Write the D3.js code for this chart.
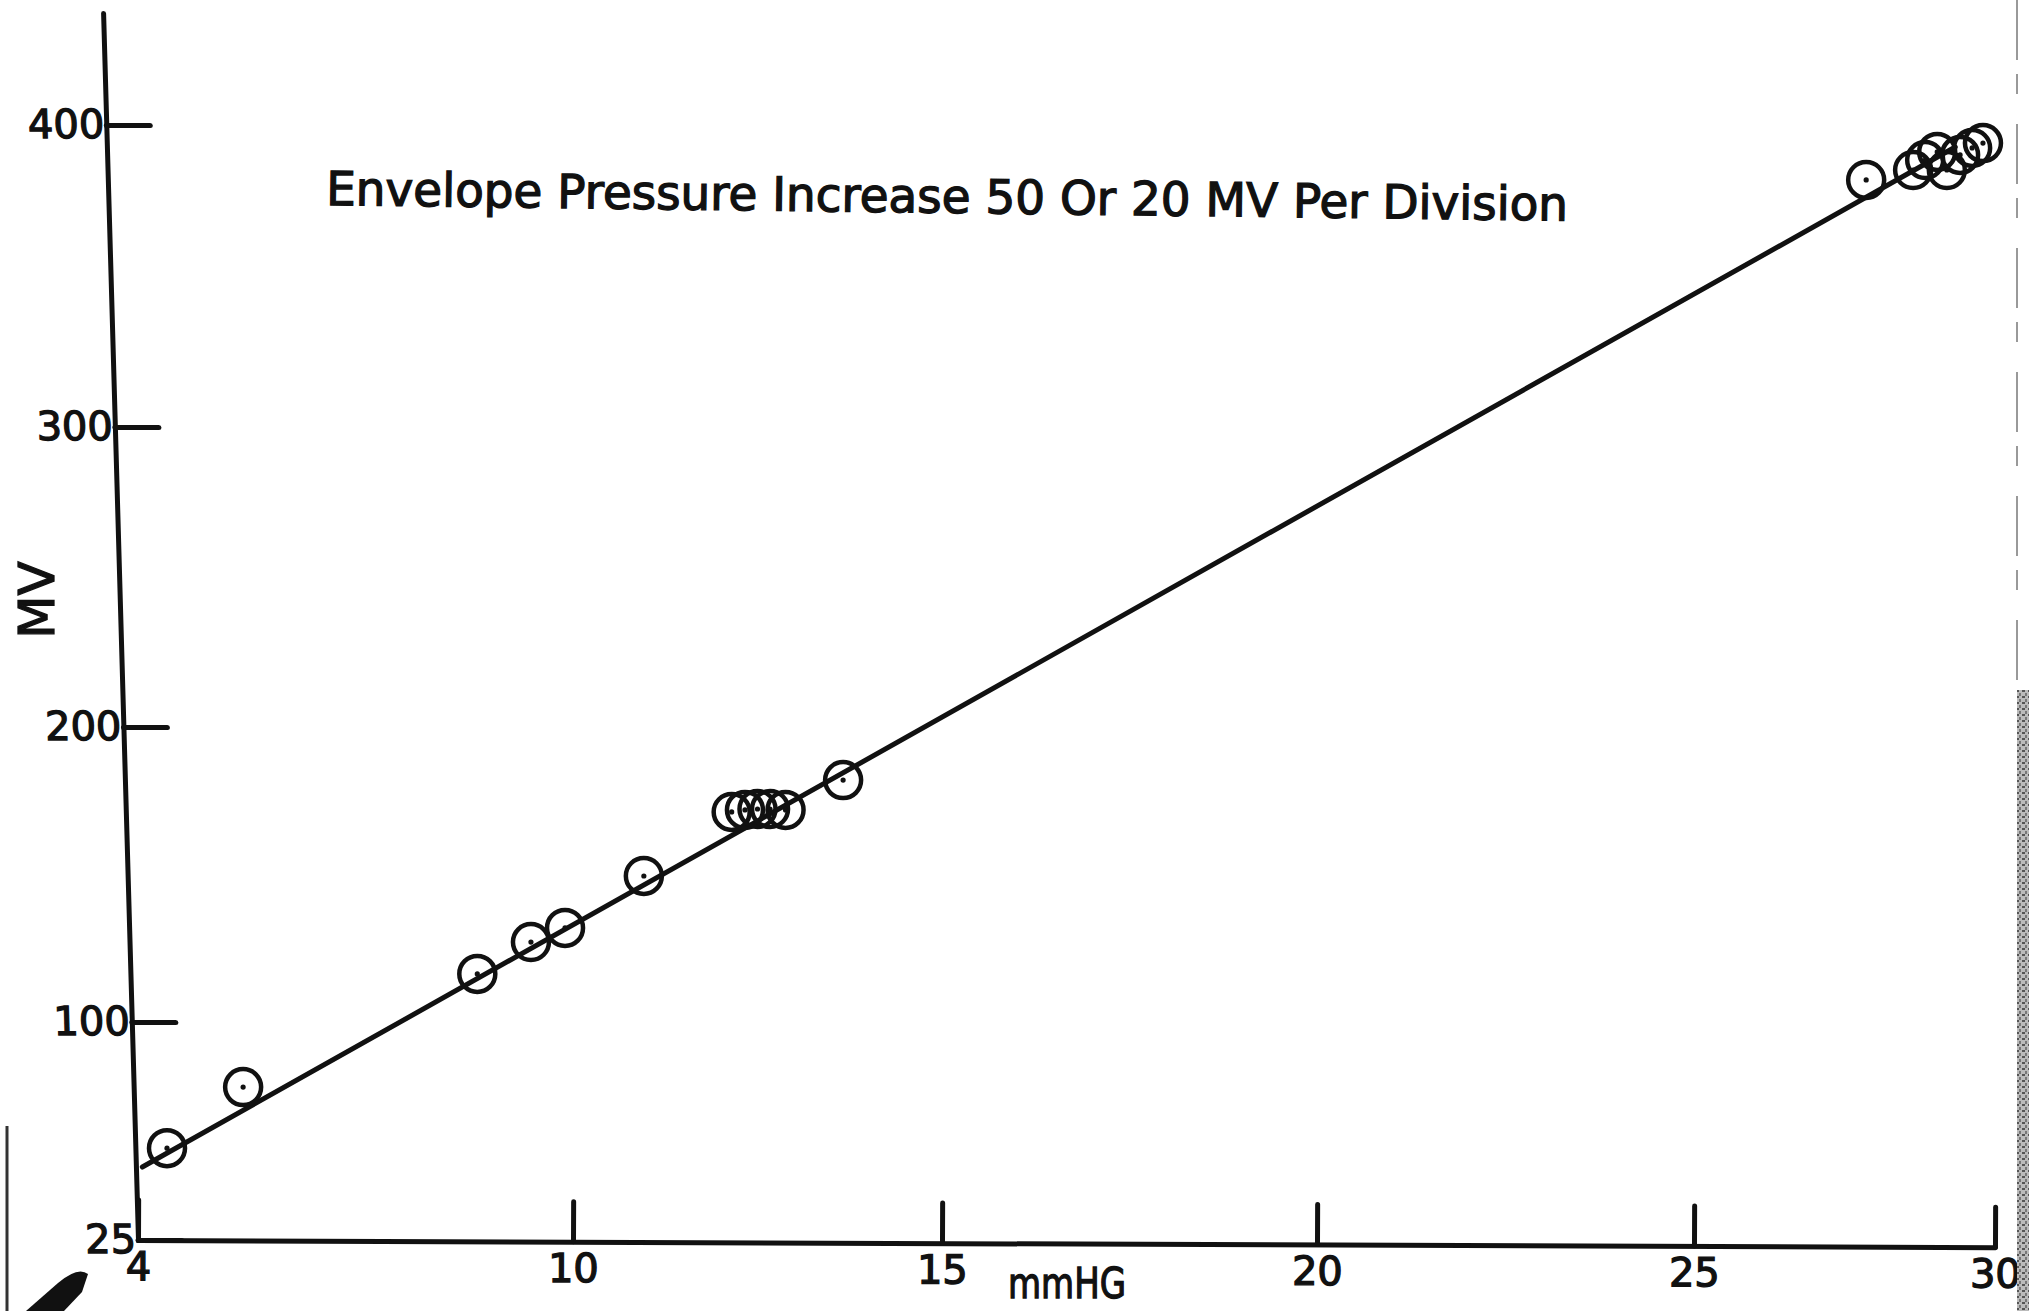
<!DOCTYPE html>
<html><head><meta charset="utf-8">
<script src="https://cdn.jsdelivr.net/npm/d3@7"></script>
<style>
html,body{margin:0;padding:0;background:#fff;}
svg{display:block;}
text{font-family:"DejaVu Sans",sans-serif;fill:#111;stroke:#111;stroke-width:1.3px;}
</style></head><body>
<svg id="chart" width="2029" height="1311"></svg>
<script>
// ---- data ----
const xTickValues = [4, 10, 15, 20, 25, 30];
const yTickValues = [25, 100, 200, 300, 400];
const pressure   = [4.40, 5.45, 8.68, 9.42, 9.89, 10.96, 12.15, 12.33, 12.50, 12.67, 12.88, 13.66,
                    27.86, 28.64, 28.84, 29.04, 29.20, 29.42, 29.62, 29.80];
const millivolts = [56.6, 77.6, 116.3, 127.1, 131.9, 149.5, 171.2, 171.9, 172.2, 172.2, 171.9, 182.0,
                    381.8, 385.1, 388.4, 391.1, 385.1, 390.1, 392.4, 394.0];
const fitPressure = [4.06, 29.34];
const fitMillivolts = [50.1, 392.7];
const titleText = "Envelope Pressure Increase 50 Or 20 MV Per Division";
const xLabelText = "mmHG";
const yLabelText = "MV";

// ---- layout ----
const svg = d3.select("#chart");
const ink = "#111";

// hand-drawn axes: piecewise linear scales following the drawn tick spacing
const x = d3.scaleLinear().domain([4, 10, 15, 20, 25, 30]).range([138, 573, 942, 1317, 1694, 1995]);
const y = d3.scaleLinear().domain([25, 100, 200, 300, 400, 437]).range([1240, 1022, 727, 427, 125, 13]);

function styleAxis(g, fs) {
  g.attr("font-family", null).attr("font-size", null);
  g.select(".domain").attr("stroke", ink).attr("stroke-width", 5).attr("stroke-linecap", "round");
  g.selectAll(".tick line").attr("stroke", ink).attr("stroke-width", 5).attr("stroke-linecap", "round");
  g.selectAll(".tick text").attr("font-size", fs).attr("fill", ink);
}

// y axis (slightly slanted like the drawing)
const yg = svg.append("g")
  .attr("transform", "translate(138,1240) skewX(1.63) translate(0,-1240)")
  .call(d3.axisLeft(y).tickValues(yTickValues).tickFormat(d3.format("d"))
        .tickSize(-44).tickSizeOuter(0).tickPadding(2));
styleAxis(yg, 40);

// x axis
const xg = svg.append("g")
  .attr("transform", "translate(0,1240) rotate(0.22,138,0)")
  .call(d3.axisBottom(x).tickValues(xTickValues).tickFormat(d3.format("d"))
        .tickSize(-40).tickSizeOuter(0).tickPadding(12));
styleAxis(xg, 40);

// fitted line
const fit = fitPressure.map((p, i) => [p, fitMillivolts[i]]);
svg.append("path")
  .attr("d", d3.line().x(d => x(d[0])).y(d => y(d[1]))(fit))
  .attr("fill", "none").attr("stroke", ink).attr("stroke-width", 5).attr("stroke-linecap", "round");

// data points: open circles with centre dots
const pts = pressure.map((p, i) => ({p, v: millivolts[i]}));
const pg = svg.append("g");
pg.selectAll("circle.ring").data(pts).join("circle").attr("class", "ring")
  .attr("cx", d => x(d.p)).attr("cy", d => y(d.v)).attr("r", 18)
  .attr("fill", "none").attr("stroke", ink).attr("stroke-width", 4.5);
pg.selectAll("circle.dot").data(pts).join("circle").attr("class", "dot")
  .attr("cx", d => x(d.p)).attr("cy", d => y(d.v)).attr("r", 2.6).attr("fill", ink);

// title
svg.append("text")
  .attr("x", 326).attr("y", 205)
  .attr("transform", "rotate(0.72,326,205)")
  .attr("font-size", 47)
  .attr("textLength", 1242).attr("lengthAdjust", "spacing")
  .text(titleText);

// axis titles
svg.append("text")
  .attr("transform", "translate(54,600) rotate(-90)")
  .attr("text-anchor", "middle").attr("font-size", 50)
  .text(yLabelText);
svg.append("text")
  .attr("x", 1067).attr("y", 1298)
  .attr("text-anchor", "middle").attr("font-size", 42)
  .attr("textLength", 118).attr("lengthAdjust", "spacingAndGlyphs")
  .text(xLabelText);

// scan artefacts at the page edges
const defs = svg.append("defs");
const pat = defs.append("pattern").attr("id", "grain").attr("width", 6).attr("height", 6)
  .attr("patternUnits", "userSpaceOnUse");
pat.append("rect").attr("width", 6).attr("height", 6).attr("fill", "#bbb");
pat.append("rect").attr("x", 0).attr("y", 0).attr("width", 3).attr("height", 2).attr("fill", "#555");
pat.append("rect").attr("x", 3).attr("y", 3).attr("width", 2).attr("height", 3).attr("fill", "#777");
svg.append("rect").attr("x", 2017).attr("y", 690).attr("width", 12).attr("height", 621).attr("fill", "url(#grain)");
svg.append("line").attr("x1", 2017).attr("x2", 2017).attr("y1", 0).attr("y2", 690)
  .attr("stroke", "#999").attr("stroke-width", 2).attr("stroke-dasharray", "60 14 20 30");
svg.append("line").attr("x1", 7).attr("x2", 7).attr("y1", 1126).attr("y2", 1311)
  .attr("stroke", "#333").attr("stroke-width", 3);
svg.append("path").attr("d", "M26,1311 L58,1283 Q78,1266 88,1274 L82,1292 L64,1311 Z").attr("fill", "#111");
</script>
</body></html>
